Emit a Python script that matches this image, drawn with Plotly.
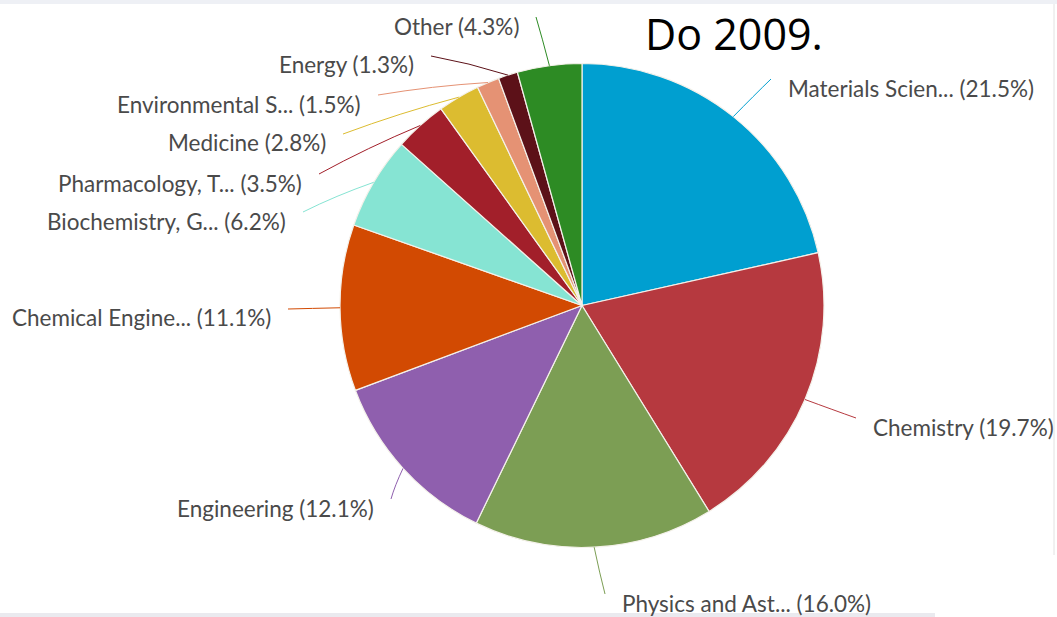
import math
import plotly.graph_objects as go

# ---- data ----
categories = ["Materials Scien...", "Chemistry", "Physics and Ast...", "Engineering",
              "Chemical Engine...", "Biochemistry, G...", "Pharmacology, T...", "Medicine",
              "Environmental S...", "Energy", "Other"]
shares = [21.5, 19.7, 16.0, 12.1, 11.1, 6.2, 3.5, 2.8, 1.5, 1.3, 4.3]
colors = ["#009fd0", "#b6393f", "#7c9e54", "#8f5fae", "#d24a02", "#86e4d3",
          "#a21f2a", "#dcbc30", "#e59274", "#5c1118", "#2d8b24"]

# ---- layout (pixels) ----
W, H = 1057, 617
CX, CY, R = 582, 305.5, 242
# label anchor positions (text layout) and side
label_x = [786, 871, 620, 376, 273, 288, 304, 328, 363, 416, 521]
label_y = [88, 427, 603, 508, 318, 221, 183, 143, 104, 65, 26]
label_side = ["right", "right", "right", "left", "left", "left", "left", "left", "left", "left", "left"]


def px(x):
    return x / W


def py(y):
    return 1 - y / H


fig = go.Figure(go.Pie(
    labels=categories, values=shares, sort=False, direction="clockwise", rotation=0,
    marker=dict(colors=colors, line=dict(color="#f4f1ea", width=1.2)),
    textinfo="none", hoverinfo="label+percent", showlegend=False,
    domain=dict(x=[px(CX - R), px(CX + R)], y=[py(CY + R), py(CY - R)]),
))

shapes = []
annotations = []
total = sum(shares)
cum = 0.0
for cat, v, col, lx, ly, side in zip(categories, shares, colors, label_x, label_y, label_side):
    theta = 2 * math.pi * (cum + v / 2) / total
    cum += v
    ex = CX + R * math.sin(theta)
    ey = CY - R * math.cos(theta)
    if side == "right":
        tx = lx - 15
        xanchor = "left"
    else:
        tx = lx + 15
        xanchor = "right"
    ty = ly - 9
    # slight bend: midpoint pushed outward radially
    mx = (ex + tx) / 2 + 3 * math.sin(theta)
    my = (ey + ty) / 2 - 3 * math.cos(theta)
    shapes.append(dict(
        type="path", xref="paper", yref="paper",
        path=f"M {px(ex)},{py(ey)} Q {px(mx)},{py(my)} {px(tx)},{py(ty)}",
        line=dict(color=col, width=1), layer="above",
    ))
    annotations.append(dict(
        text=f"{cat} ({v:.1f}%)", x=px(lx), y=py(ly), xref="paper", yref="paper",
        xanchor=xanchor, yanchor="middle", showarrow=False,
        font=dict(family="Lato", size=22.5, color="#4a4a4a"),
    ))

annotations.append(dict(
    text="Do 2009.", x=px(643), y=py(33), xref="paper", yref="paper",
    xanchor="left", yanchor="middle", showarrow=False,
    font=dict(family="Open Sans", size=43, color="#000000"),
))

# screenshot frame decorations
shapes.append(dict(type="rect", xref="paper", yref="paper", x0=0, x1=1, y0=py(4), y1=1,
                   fillcolor="#eef0f5", line=dict(width=0), layer="below"))
shapes.append(dict(type="line", xref="paper", yref="paper", x0=px(1054), x1=px(1054),
                   y0=py(555), y1=py(4), line=dict(color="#e2e2e2", width=1)))
shapes.append(dict(type="rect", xref="paper", yref="paper", x0=0, x1=px(935), y0=0, y1=py(613),
                   fillcolor="#eaeaef", line=dict(width=0), layer="below"))

fig.update_layout(
    width=W, height=H, margin=dict(l=0, r=0, t=0, b=0),
    paper_bgcolor="white", plot_bgcolor="white",
    shapes=shapes, annotations=annotations,
)

fig.write_html("out.html")
